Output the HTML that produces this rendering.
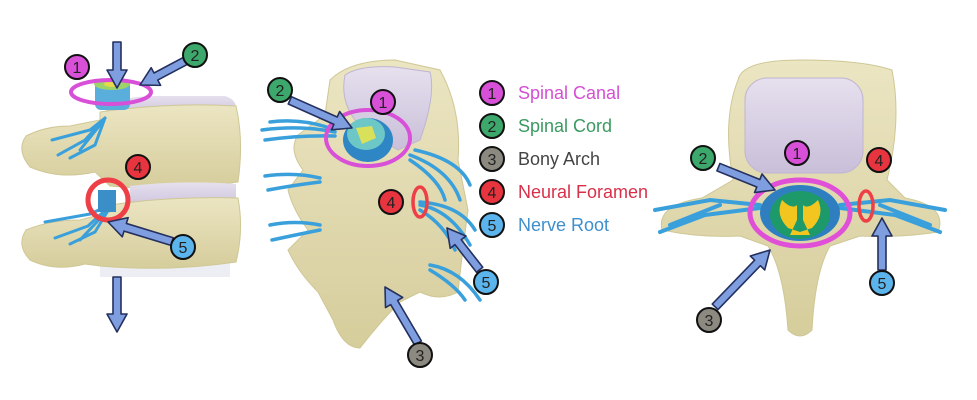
<!DOCTYPE html>
<html><head><meta charset="utf-8"><style>
html,body{margin:0;padding:0;background:#fff;}
svg{display:block;}
text{font-family:"Liberation Sans",sans-serif;}
</style></head><body>
<svg width="977" height="400" viewBox="0 0 977 400" xmlns="http://www.w3.org/2000/svg">
<defs>
<linearGradient id="bone" x1="0" y1="0" x2="0" y2="1"><stop offset="0" stop-color="#ebe5c2"/><stop offset="1" stop-color="#d6cd9c"/></linearGradient>
<linearGradient id="disc" x1="0" y1="0" x2="0" y2="1"><stop offset="0" stop-color="#e6e0ee"/><stop offset="1" stop-color="#c9bfd9"/></linearGradient>
</defs>

<!-- ============ LEFT FIGURE ============ -->
<rect x="100" y="255" width="130" height="22" fill="#e4e7ee" opacity="0.7"/>
<path d="M105 112 Q110 96 160 96 L225 96 Q238 100 236 112 L236 118 L105 118 Z" fill="url(#disc)"/>
<path d="M100 112 Q170 102 236 106 Q244 140 238 182 Q170 192 110 186 L95 172 Q60 180 30 167 Q16 150 26 136 Q45 126 70 126 L100 120 Z" fill="url(#bone)" stroke="#cfc795" stroke-width="1"/>
<path d="M130 186 Q180 180 236 184 L236 208 Q180 212 130 208 Z" fill="url(#disc)"/>
<path d="M110 205 Q170 196 238 198 Q244 230 236 262 Q170 272 100 266 L85 264 Q55 272 30 260 Q16 245 26 230 Q50 220 80 220 L110 212 Z" fill="url(#bone)" stroke="#cfc795" stroke-width="1"/>
<rect x="95" y="80" width="35" height="30" rx="6" fill="#5aaedb"/>
<ellipse cx="112" cy="84" rx="18" ry="6" fill="#9ed36a"/>
<ellipse cx="112" cy="84" rx="8" ry="3" fill="#e6d94a"/>
<g stroke="#3aa0dc" stroke-width="3" fill="none" stroke-linecap="round">
<path d="M105 118 L90 130 L52 140"/><path d="M105 118 L85 140 L58 155"/><path d="M105 118 L95 145 L70 158"/><path d="M100 125 L80 150"/>
<path d="M112 204 L90 214 L45 222"/><path d="M112 204 L88 226 L55 238"/><path d="M112 204 L95 232 L70 244"/><path d="M108 210 L80 240"/>
</g>
<rect x="98" y="190" width="18" height="22" fill="#3b8fc8"/>
<circle cx="108" cy="200" r="20" fill="none" stroke="#ee3f46" stroke-width="5"/>
<ellipse cx="111" cy="92" rx="40" ry="12" fill="none" stroke="#d84fd8" stroke-width="4"/>

<!-- ============ MIDDLE FIGURE ============ -->
<path d="M330 80 Q350 60 395 60 L440 70 Q462 110 458 160 L468 210 Q462 255 458 292 Q440 302 420 292 L400 302 Q380 322 360 348 Q343 348 333 320 L318 292 Q298 272 288 250 L308 230 Q293 210 288 190 L303 170 Q288 150 298 135 L325 115 Z" fill="url(#bone)" stroke="#cfc795"/>
<path d="M345 75 Q360 65 395 67 L430 72 Q436 95 420 140 L398 150 Q380 140 355 120 Q340 100 345 75 Z" fill="url(#disc)" stroke="#bfb5d2"/>
<g stroke="#3aa0dc" stroke-width="3.5" fill="none" stroke-linecap="round">
<path d="M335 132 Q300 125 262 130"/><path d="M335 136 Q300 135 265 140"/><path d="M330 128 Q300 118 270 122"/>
<path d="M320 178 Q295 172 265 176"/><path d="M320 182 Q295 185 268 190"/>
<path d="M320 225 Q295 220 270 225"/><path d="M320 230 Q295 235 272 240"/>
<path d="M410 155 Q450 170 460 200"/><path d="M410 160 Q440 180 445 200"/><path d="M415 150 Q460 160 470 185"/>
<path d="M420 205 Q450 210 470 245"/><path d="M420 210 Q445 225 455 250"/><path d="M420 202 Q460 205 475 230"/>
<path d="M430 265 Q460 270 480 300"/><path d="M430 270 Q455 285 465 300"/>
</g>
<ellipse cx="368" cy="140" rx="25" ry="22" fill="#2f86c4"/>
<ellipse cx="366" cy="134" rx="19" ry="16" fill="#6cc7c6"/>
<path d="M356 128 L372 126 L376 138 L362 144 Z" fill="#d9e05a"/>
<ellipse cx="368" cy="138" rx="42" ry="28" fill="none" stroke="#d84fd8" stroke-width="4"/>
<ellipse cx="420" cy="202" rx="7" ry="15" fill="none" stroke="#ee3f46" stroke-width="3.5"/>

<!-- ============ RIGHT FIGURE ============ -->
<path d="M738 80 Q742 60 800 60 Q862 60 892 70 Q902 120 887 180 L905 198 Q948 206 938 232 Q900 238 860 236 L830 246 Q815 272 812 330 Q800 342 788 330 Q784 272 768 246 L740 236 Q700 238 662 230 Q656 205 702 198 L733 180 Q722 120 738 80 Z" fill="url(#bone)" stroke="#cfc795"/>
<rect x="745" y="78" width="118" height="95" rx="22" fill="url(#disc)" stroke="#bfb5d2"/>
<g stroke="#3aa0dc" stroke-width="4" fill="none" stroke-linecap="round">
<path d="M760 205 L710 200 L655 210"/><path d="M760 208 L705 215 L660 232"/><path d="M720 205 L670 225"/>
<path d="M840 205 L890 200 L945 210"/><path d="M840 208 L895 215 L940 232"/><path d="M880 205 L930 225"/>
</g>
<ellipse cx="800" cy="213" rx="40" ry="28" fill="#2f7fc0"/>
<ellipse cx="800" cy="215" rx="30" ry="24" fill="#1e9a6a"/>
<path d="M782 200 Q792 210 797 205 L797 220 L790 235 L810 235 L803 220 L803 205 Q808 210 818 200 Q825 215 812 228 L800 232 L788 228 Q775 215 782 200 Z" fill="#f2c61f"/>
<ellipse cx="800" cy="213" rx="50" ry="33" fill="none" stroke="#e04fd8" stroke-width="5"/>
<ellipse cx="866" cy="206" rx="7" ry="15" fill="none" stroke="#ee3f46" stroke-width="3.5"/>

<!-- ============ ARROWS ============ -->
<g fill="#7f9ee0" stroke="#24305e" stroke-width="1.6" stroke-linejoin="round">
<path transform="translate(117,88) rotate(90)" d="M0 0 L-18 -10 L-18 -4 L-46 -4 L-46 4 L-18 4 L-18 10 Z"/>
<path transform="translate(140,85) rotate(152)" d="M0 0 L-18 -10 L-18 -4 L-53 -4 L-53 4 L-18 4 L-18 10 Z"/>
<path transform="translate(108,222) rotate(197)" d="M0 0 L-18 -10 L-18 -4 L-67 -4 L-67 4 L-18 4 L-18 10 Z"/>
<path transform="translate(117,332) rotate(90)" d="M0 0 L-18 -10 L-18 -4 L-55 -4 L-55 4 L-18 4 L-18 10 Z"/>
<path transform="translate(352,128) rotate(24)" d="M0 0 L-18 -10 L-18 -4 L-68 -4 L-68 4 L-18 4 L-18 10 Z"/>
<path transform="translate(385,287) rotate(239.5)" d="M0 0 L-18 -10 L-18 -4 L-65 -4 L-65 4 L-18 4 L-18 10 Z"/>
<path transform="translate(447,228) rotate(232)" d="M0 0 L-18 -10 L-18 -4 L-53 -4 L-53 4 L-18 4 L-18 10 Z"/>
<path transform="translate(775,190) rotate(22)" d="M0 0 L-18 -10 L-18 -4 L-61 -4 L-61 4 L-18 4 L-18 10 Z"/>
<path transform="translate(770,250) rotate(-46)" d="M0 0 L-18 -10 L-18 -4 L-79 -4 L-79 4 L-18 4 L-18 10 Z"/>
<path transform="translate(882,218) rotate(-90)" d="M0 0 L-18 -10 L-18 -4 L-52 -4 L-52 4 L-18 4 L-18 10 Z"/>
</g>

<!-- ============ NUMBER BADGES ============ -->
<g stroke="#111" stroke-width="2">
<g fill="#d84fd8"><circle cx="77" cy="67" r="12"/><circle cx="383" cy="102" r="12"/><circle cx="797" cy="153" r="12"/><circle cx="492" cy="93" r="12"/></g>
<g fill="#3da86b"><circle cx="195" cy="55" r="12"/><circle cx="280" cy="90" r="12"/><circle cx="703" cy="158" r="12"/><circle cx="492" cy="126" r="12"/></g>
<g fill="#8c8a80"><circle cx="420" cy="355" r="12"/><circle cx="709" cy="320" r="12"/><circle cx="492" cy="159" r="12"/></g>
<g fill="#e8343f"><circle cx="138" cy="167" r="12"/><circle cx="391" cy="202" r="12"/><circle cx="879" cy="160" r="12"/><circle cx="492" cy="192" r="12"/></g>
<g fill="#5cb4ec"><circle cx="183" cy="247" r="12"/><circle cx="486" cy="282" r="12"/><circle cx="882" cy="283" r="12"/><circle cx="492" cy="225" r="12"/></g>
</g>
<g font-size="16" text-anchor="middle" fill="#222">
<text x="77" y="73">1</text><text x="383" y="108">1</text><text x="797" y="159">1</text><text x="492" y="99">1</text>
<text x="195" y="61">2</text><text x="280" y="96">2</text><text x="703" y="164">2</text><text x="492" y="132">2</text>
<text x="420" y="361">3</text><text x="709" y="326">3</text><text x="492" y="165">3</text>
<text x="138" y="173">4</text><text x="391" y="208">4</text><text x="879" y="166">4</text><text x="492" y="198">4</text>
<text x="183" y="253">5</text><text x="486" y="288">5</text><text x="882" y="289">5</text><text x="492" y="231">5</text>
</g>

<!-- ============ LEGEND ============ -->
<g font-size="18">
<text x="518" y="99" fill="#d44fd4">Spinal Canal</text>
<text x="518" y="132" fill="#3a9a60">Spinal Cord</text>
<text x="518" y="165" fill="#444">Bony Arch</text>
<text x="518" y="198" fill="#d8304a">Neural Foramen</text>
<text x="518" y="231" fill="#3e8fcc">Nerve Root</text>
</g>
</svg>
</body></html>
